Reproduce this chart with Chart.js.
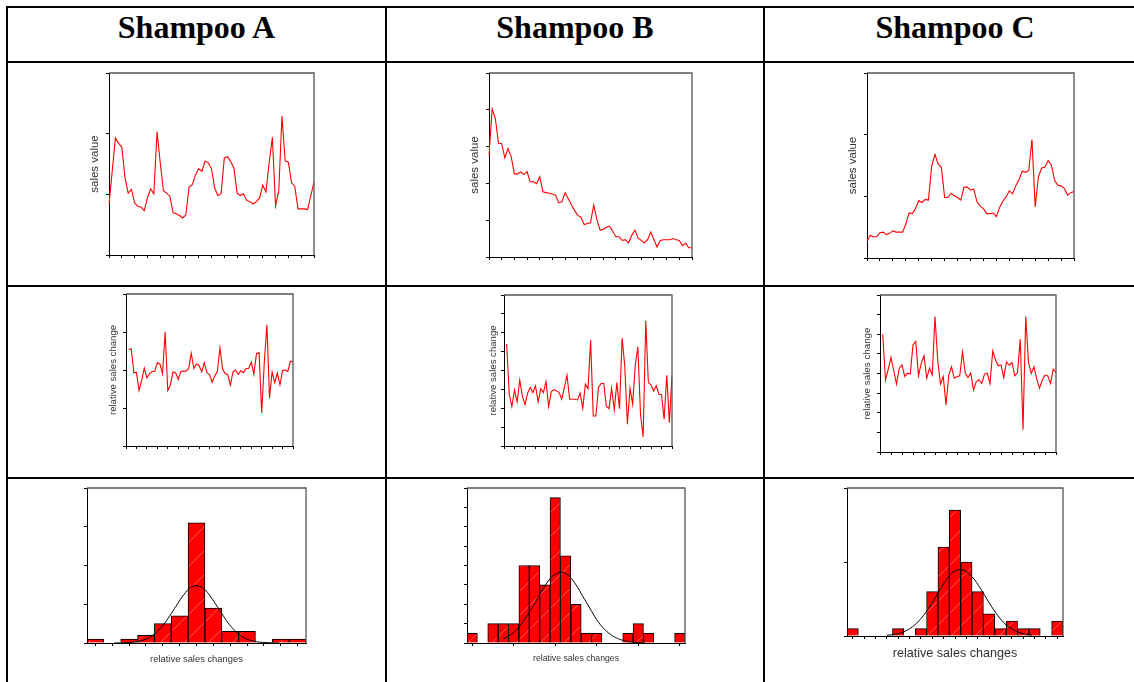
<!DOCTYPE html>
<html>
<head>
<meta charset="utf-8">
<script src="https://cdn.jsdelivr.net/npm/chart.js@4"></script>
<style>
html, body { margin: 0; padding: 0; background: #fff; }
body { position: relative; width: 1134px; height: 682px; overflow: hidden; }
.rule { position: absolute; background: #000; }
.head { position: absolute; top: 9px; height: 36px; line-height: 36px; text-align: center;
        font: bold 32px "Liberation Serif", "Times New Roman", serif; color: #000; white-space: nowrap; }
.cell { position: absolute; }
</style>
</head>
<body>
<!-- table lines -->
<div class="rule" style="left:6px;top:6px;width:1128px;height:2px"></div>
<div class="rule" style="left:6px;top:61px;width:1128px;height:2px"></div>
<div class="rule" style="left:6px;top:285px;width:1128px;height:2px"></div>
<div class="rule" style="left:6px;top:477px;width:1128px;height:2px"></div>
<div class="rule" style="left:6px;top:6px;width:2px;height:676px"></div>
<div class="rule" style="left:385px;top:6px;width:2px;height:676px"></div>
<div class="rule" style="left:763px;top:6px;width:2px;height:676px"></div>

<div class="head" style="left:6px;width:381px">Shampoo A</div>
<div class="head" style="left:385px;width:380px">Shampoo B</div>
<div class="head" style="left:764px;width:382px">Shampoo C</div>

<div class="cell" id="salesA"><canvas></canvas></div>
<div class="cell" id="salesB"><canvas></canvas></div>
<div class="cell" id="salesC"><canvas></canvas></div>
<div class="cell" id="changeA"><canvas></canvas></div>
<div class="cell" id="changeB"><canvas></canvas></div>
<div class="cell" id="changeC"><canvas></canvas></div>
<div class="cell" id="histA"><canvas></canvas></div>
<div class="cell" id="histB"><canvas></canvas></div>
<div class="cell" id="histC"><canvas></canvas></div>

<script>
// data
const periods = Array.from({ length: 65 }, (_, i) => i + 1)

// sales value per period
const salesA = [83,138,193,184,178,127,102,108,86,80,79,73,94,109,101,203,152,106,102,97,70,68,65,61,66,
    112,116,132,142,138,155,152,142,110,98,101,160,162,154,143,102,98,101,90,88,84,88,94,115,104,
    152,194,81,106,229,155,153,119,113,76,76,76,75,98,120]
const salesB = [275,402,376,309,308,269,295,272,226,226,231,224,232,204,205,199,218,177,175,173,171,168,147,150,175,
    158,141,126,113,108,88,91,93,141,102,73,75,81,84,70,55,55,45,47,38,59,73,52,45,38,
    47,68,47,27,45,47,47,47,50,47,45,31,37,25,25]
const salesC = [27,37,34,35,41,42,38,40,44,42,42,42,55,73,72,80,93,90,95,94,149,168,152,147,98,
    98,105,101,98,94,115,115,110,112,91,84,80,72,72,73,67,82,92,99,109,104,117,127,141,139,
    142,192,83,132,146,147,158,151,126,118,117,113,102,106,108]

// relative sales change (%), from period 2 on
const changeA = [5.4,5.6,-0.7,-0.7,-5.4,-2.7,0.5,-2.1,-1.0,-0.4,-0.4,1.9,1.6,-1.0,10.0,-5.4,-4.0,-0.5,-0.7,-2.5,
    -0.4,-0.3,-0.3,0.4,4.4,0.4,1.6,1.2,-0.5,1.9,-0.7,-1.2,-3.2,-1.6,-0.4,5.8,0.4,-1.0,-1.2,-4.0,
    -0.5,0,-1.2,-0.2,-0.7,0.4,0.4,2.1,-1.1,4.3,4.6,-11.3,2.1,11.9,-7.4,-0.5,-3.3,-0.8,-3.9,-0.1,
    0,-0.4,2.3,2.1]
const changeB = [14.0,-12.6,-19.1,-10.3,-16.6,-5.1,-13.5,-18.1,-12.0,-9.0,-11.7,-8.1,-16.6,-9.6,-11.7,-5.8,-19.1,-11.3,-10.1,-10.8,
    -11.7,-15.2,-9.0,-2.5,-15.2,-15.2,-15.2,-15.6,-12.0,-20.0,-7.3,-9.6,16.1,-24.1,-24.1,-9.0,-6.9,-6.9,-19.1,-20.2,
    -9.4,-20.9,-6.4,-20.2,17.2,2.5,-28.5,-9.4,-17.9,2.8,12.6,-23.2,-35.2,26.4,-6.4,-7.6,-10.8,-8.1,-12.6,-12.7,
    -25.8,-2.5,-27.6,-2.8]
const changeC = [20.0,-3.4,2.2,8.1,1.4,-5.4,2.7,4.4,-1.5,0.2,-0.3,14.6,16.3,-1.2,5.3,9.0,-2.4,2.7,-0.8,29.0,
    6.4,-5.4,-1.5,-16.1,-0.8,3.4,-2.4,-1.7,-1.2,11.0,0.2,-2.0,0.2,-8.5,-4.1,-3.2,-5.1,-0.3,0.2,-5.1,
    11.5,6.9,3.9,4.4,-2.0,5.9,4.2,5.6,-1.2,0.5,17.5,-28.6,29.0,5.6,0,3.4,-2.9,-7.5,-3.4,-0.8,
    -1.2,-5.1,2.2,0.5]

// histograms of the relative changes
const binsA = ['1','2','3','4','5','6','7','8','9','10','11','12','13']
const countsA = [1,0,1,2,5,7,31,9,3,3,0,1,1]
const binsB = ['1','2','3','4','5','6','7','8','9','10','11','12','13','14','15','16','17','18','19','20','21']
const countsB = [1,0,2,2,2,8,8,6,15,9,4,1,1,0,0,1,2,1,0,0,1]
const binsC = ['1','2','3','4','5','6','7','8','9','10','11','12','13','14','15','16','17','18','19']
const countsC = [1,0,0,0,1,0,1,6,12,17,10,6,3,1,2,1,1,0,2]

// normal curves (position in bins, height in counts)
const curvePosA = [-0.5,0,0.5,1,1.5,2,2.5,3,3.5,4,4.5,5,5.5,6,6.5,7,7.5,8,8.5,9,9.5,10,10.5,11,11.5,12,12.5]
const curveA = [0.01,0.04,0.1,0.22,0.5,1.0,1.9,3.3,5.2,7.6,10.1,12.5,14.2,14.8,14.2,12.5,10.1,7.6,5.2,3.3,1.9,1.0,0.5,0.22,0.1,0.04,0.01]
const curvePosB = [-0.5,0,1,2,3,4,5,6,7,8,9,10,11,12,13,14,15,16,17,18,19,20]
const curveB = [0.4,0.6,1.1,1.85,2.85,4.05,5.3,6.4,7.1,7.3,6.9,6.0,4.8,3.6,2.4,1.5,0.88,0.47,0.23,0.1,0.04,0.01]
const curvePosC = [1,2,3,4,5,6,7,8,9,10,11,12,13,14,15,16,17,18]
const curveC = [0.09,0.24,0.58,1.24,2.35,3.9,5.8,7.6,8.8,8.9,8.0,6.4,4.5,2.8,1.5,0.74,0.31,0.12]

// layout (plot areas in page pixels)
const PAD_T = 4, PAD_R = 4
Chart.defaults.font.family = '"Liberation Sans", Arial, sans-serif'

const place = (id, box, padL, padB) => {
    const el = document.getElementById(id)
    el.style.left = (box.l - padL) + 'px'
    el.style.top = (box.t - PAD_T) + 'px'
    el.style.width = (box.r - box.l + padL + PAD_R) + 'px'
    el.style.height = (box.b - box.t + PAD_T + padB) + 'px'
    return el.querySelector('canvas')
}

const frame = {
    id: 'frame',
    afterDatasetsDraw(chart) {
        const { ctx, chartArea: a } = chart
        ctx.save()
        ctx.strokeStyle = '#555'
        ctx.lineWidth = 1.3
        ctx.beginPath()
        ctx.moveTo(a.left, a.top)
        ctx.lineTo(a.right, a.top)
        ctx.lineTo(a.right, a.bottom)
        ctx.stroke()
        ctx.restore()
    }
}

// red fill with faint light diagonal strokes
const hatch = () => {
    const c = document.createElement('canvas')
    c.width = 24
    c.height = 24
    const g = c.getContext('2d')
    g.fillStyle = '#ff0000'
    g.fillRect(0, 0, 24, 24)
    g.strokeStyle = 'rgba(255,255,255,0.35)'
    g.lineWidth = 1
    g.beginPath()
    g.moveTo(0, 24)
    g.lineTo(24, 0)
    g.stroke()
    return g.createPattern(c, 'repeat')
}

const tickGrid = { drawOnChartArea: false, tickLength: 3, color: '#000', lineWidth: 1 }

const lineChart = (id, box, values, y, title) => {
    const padL = 30, padB = 8
    const fs = box.fs
    const lh = fs * 1.2
    return new Chart(place(id, box, padL, padB), {
        type: 'line',
        data: {
            labels: periods,
            datasets: [{ data: values, borderColor: '#ff0000', borderWidth: 1.1, pointRadius: 0, tension: 0 }]
        },
        options: {
            responsive: true, maintainAspectRatio: false, animation: false, events: [],
            layout: { padding: { top: PAD_T, right: PAD_R, left: 0, bottom: 0 } },
            plugins: { legend: { display: false }, tooltip: { enabled: false } },
            scales: {
                x: {
                    type: 'category', offset: false,
                    grid: tickGrid, border: { color: '#000' }, ticks: { display: false },
                    afterBuildTicks: s => { s.ticks = s.ticks.filter((t, i) => i % 4 === 0) },
                    afterFit: s => { s.height = padB }
                },
                y: {
                    min: y.min, max: y.max,
                    grid: tickGrid, border: { color: '#000' }, ticks: { display: false, stepSize: y.step },
                    title: {
                        display: true, text: title, color: '#333',
                        font: { size: fs, lineHeight: 1.2 },
                        padding: { top: box.tx - (box.l - padL) - lh / 2, bottom: 0 }
                    },
                    afterFit: s => { s.width = padL }
                }
            }
        },
        plugins: [frame]
    })
}

const histChart = (id, box, bins, counts, curvePos, curve, y, every) => {
    const padL = 8, padB = 28
    const lh = box.fs * 1.2
    return new Chart(place(id, box, padL, padB), {
        type: 'bar',
        data: {
            labels: bins,
            datasets: [
                {
                    type: 'line', xAxisID: 'x2', order: 0,
                    data: curvePos.map((p, i) => ({ x: p, y: curve[i] })),
                    borderColor: '#000', borderWidth: 1, pointRadius: 0, tension: 0.4
                },
                {
                    type: 'bar', order: 1, data: counts, grouped: false,
                    backgroundColor: hatch(), borderColor: '#000', borderWidth: 1,
                    barPercentage: 1, categoryPercentage: 1
                }
            ]
        },
        options: {
            responsive: true, maintainAspectRatio: false, animation: false, events: [],
            layout: { padding: { top: PAD_T, right: PAD_R, left: 0, bottom: 0 } },
            plugins: { legend: { display: false }, tooltip: { enabled: false } },
            scales: {
                x: {
                    type: 'category', offset: true,
                    grid: { ...tickGrid, offset: false }, border: { color: '#000' }, ticks: { display: false },
                    afterBuildTicks: s => { s.ticks = s.ticks.filter((t, i) => i % every === 0) },
                    title: {
                        display: true, text: 'relative sales changes', color: '#333',
                        font: { size: box.fs, lineHeight: 1.2 },
                        padding: { top: 0, bottom: box.b + padB - box.ty - lh / 2 }
                    },
                    afterFit: s => { s.height = padB }
                },
                x2: { type: 'linear', display: false, min: -0.5, max: bins.length - 0.5 },
                y: {
                    min: 0, max: y.max,
                    grid: tickGrid, border: { color: '#000' }, ticks: { display: false, stepSize: y.step },
                    afterFit: s => { s.width = padL }
                }
            }
        },
        plugins: [frame]
    })
}

// first row: sales values
lineChart('salesA', { l: 109, t: 73, r: 314, b: 255, tx: 95.3, fs: 11.5 }, salesA, { min: 0, max: 300, step: 100 }, 'sales value')
lineChart('salesB', { l: 489, t: 73, r: 692, b: 257, tx: 475.3, fs: 11.5 }, salesB, { min: 0, max: 500, step: 100 }, 'sales value')
lineChart('salesC', { l: 867, t: 73, r: 1074, b: 258, tx: 853, fs: 11.5 }, salesC, { min: 0, max: 300, step: 100 }, 'sales value')

// second row: relative changes
lineChart('changeA', { l: 126, t: 294, r: 293, b: 446, tx: 113, fs: 9.6 }, [null, ...changeA], { min: -20, max: 20, step: 10 }, 'relative sales change')
lineChart('changeB', { l: 504, t: 295, r: 672, b: 446, tx: 493, fs: 9.6 }, [null, ...changeB], { min: -40, max: 40, step: 10 }, 'relative sales change')
lineChart('changeC', { l: 880, t: 295, r: 1056, b: 452, tx: 867, fs: 9.8 }, [null, ...changeC], { min: -40, max: 40, step: 10 }, 'relative sales change')

// third row: histograms with normal curve
histChart('histA', { l: 87, t: 488, r: 306, b: 643, ty: 659, fs: 9.4 }, binsA, countsA, curvePosA, curveA, { max: 40, step: 10 }, 1)
histChart('histB', { l: 467, t: 488, r: 685, b: 643, ty: 659, fs: 8.7 }, binsB, countsB, curvePosB, curveB, { max: 16, step: 2 }, 4)
histChart('histC', { l: 847, t: 488, r: 1063, b: 636, ty: 654, fs: 12.6 }, binsC, countsC, curvePosC, curveC, { max: 20, step: 10 }, 1)
</script>
</body>
</html>
